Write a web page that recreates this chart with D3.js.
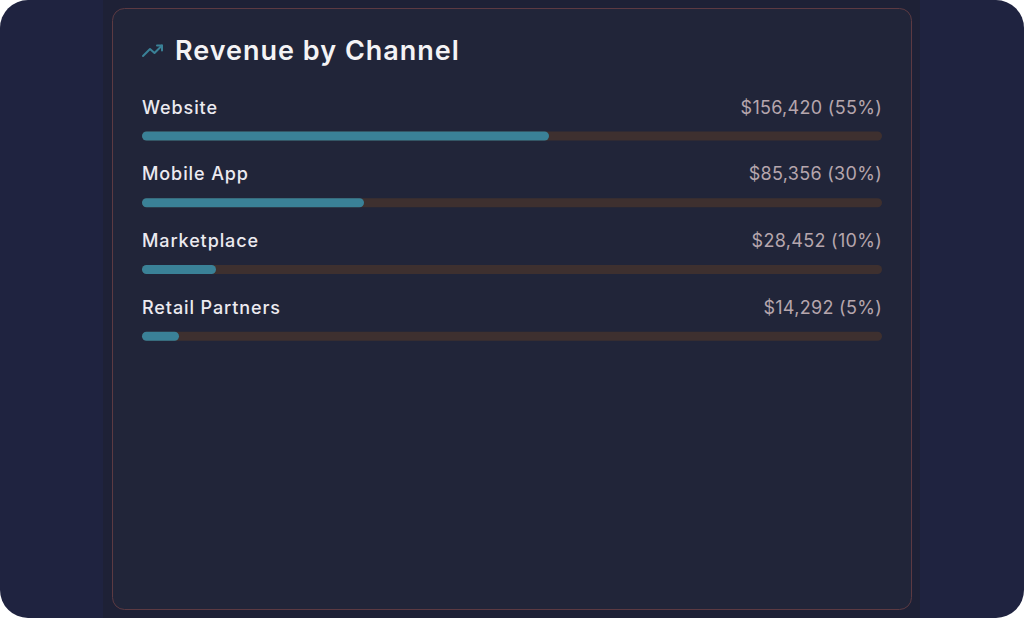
<!DOCTYPE html>
<meta charset="utf-8">
<script src="https://d3js.org/d3.v7.min.js"></script>
<style>
  body { margin: 0; background: #ffffff; }
  svg text { font-family: "Inter", "Noto Sans", sans-serif; }
</style>
<body>
<div id="chart"></div>
<script>
  // channel data
  var channels = ["Website", "Mobile App", "Marketplace", "Retail Partners"];
  var revenue = [156420, 85356, 28452, 14292];
  var share = [55, 30, 10, 5];

  var W = 1024, H = 618;

  var svg = d3.select("#chart")
    .append("svg")
    .attr("width", W)
    .attr("height", H);

  // outer rounded panel
  svg.append("rect")
    .attr("width", W).attr("height", H)
    .attr("rx", 28)
    .attr("fill", "#1f2340");

  // darker column behind the card
  svg.append("rect")
    .attr("x", 103).attr("y", 0)
    .attr("width", 817).attr("height", H)
    .attr("fill", "#1e2136");

  // card
  svg.append("rect")
    .attr("x", 112.5).attr("y", 8.5)
    .attr("width", 799).attr("height", 601)
    .attr("rx", 12)
    .attr("fill", "#212539")
    .attr("stroke", "#5c3a42")
    .attr("stroke-width", 1);

  // title icon (trending up)
  var icon = svg.append("g")
    .attr("fill", "none")
    .attr("stroke", "#3a8197")
    .attr("stroke-width", 2)
    .attr("stroke-linecap", "round")
    .attr("stroke-linejoin", "round");
  icon.append("polyline").attr("points", "143,56 150,49 154.5,53 162,45.5");
  icon.append("polyline").attr("points", "157,45.5 162,45.5 162,50.5");

  svg.append("text")
    .attr("x", 175)
    .attr("y", 60)
    .attr("fill", "#f4f3f5")
    .attr("font-size", 27)
    .attr("font-weight", 600)
    .attr("letter-spacing", 1)
    .text("Revenue by Channel");

  var left = 142, right = 882;

  var x = d3.scaleLinear()
    .domain([0, 100])
    .range([0, right - left]);

  var y = d3.scaleBand()
    .domain(channels)
    .range([93, 360])
    .paddingInner(0);

  var fmt = d3.format("$,");

  var rows = svg.selectAll(".row")
    .data(channels)
    .enter()
    .append("g")
    .attr("class", "row")
    .attr("transform", function (d) { return "translate(0," + y(d) + ")"; });

  rows.append("text")
    .attr("x", left)
    .attr("y", 20.5)
    .attr("fill", "#eceaf0")
    .attr("font-size", 18)
    .attr("font-weight", 500)
    .attr("letter-spacing", 0.9)
    .text(function (d) { return d; });

  rows.append("text")
    .attr("x", right)
    .attr("y", 20.5)
    .attr("text-anchor", "end")
    .attr("fill", "#b6a6ad")
    .attr("font-size", 18)
    .attr("letter-spacing", 0.3)
    .text(function (d, i) { return fmt(revenue[i]) + " (" + share[i] + "%)"; });

  // track
  rows.append("rect")
    .attr("x", left)
    .attr("y", 38.5)
    .attr("width", x(100))
    .attr("height", 9)
    .attr("rx", 4.5)
    .attr("fill", "#3e302f");

  // filled share
  rows.append("rect")
    .attr("x", left)
    .attr("y", 38.5)
    .attr("width", function (d, i) { return x(share[i]); })
    .attr("height", 9)
    .attr("rx", 4.5)
    .attr("fill", "#3a8197");
</script>
</body>
